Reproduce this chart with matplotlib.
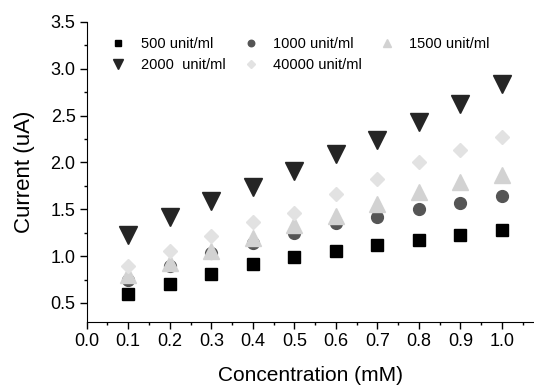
import matplotlib
matplotlib.use("Agg")
import matplotlib.pyplot as plt
from matplotlib.ticker import MultipleLocator

plt.rcParams['font.family'] = ['Liberation Sans', 'DejaVu Sans']

# data
conc = [0.1, 0.2, 0.3, 0.4, 0.5, 0.6, 0.7, 0.8, 0.9, 1.0]
cur_500 = [0.60, 0.70, 0.81, 0.92, 0.99, 1.05, 1.12, 1.17, 1.23, 1.28]
cur_1000 = [0.75, 0.90, 1.03, 1.14, 1.25, 1.35, 1.42, 1.50, 1.57, 1.64]
cur_1500 = [0.80, 0.93, 1.06, 1.19, 1.33, 1.43, 1.56, 1.68, 1.79, 1.87]
cur_2000 = [1.23, 1.42, 1.59, 1.74, 1.91, 2.09, 2.24, 2.43, 2.62, 2.84]
cur_40000 = [0.89, 1.05, 1.22, 1.36, 1.46, 1.66, 1.82, 2.00, 2.13, 2.27]
labels = ["500 unit/ml", "1000 unit/ml", "1500 unit/ml", "2000  unit/ml", "40000 unit/ml"]

fig = plt.figure(figsize=(5.34, 3.85), dpi=100)
ax = fig.add_axes([0.1623, 0.1644, 0.8377, 0.7785])

styles = [
    ('s', '#000000', 8.0),
    ('o', '#555555', 8.5),
    ('^', '#d2d2d2', 11.0),
    ('v', '#252525', 12.5),
    ('D', '#e2e2e2', 7.5),
]
series = [cur_500, cur_1000, cur_1500, cur_2000, cur_40000]

handles = []
for ys, lab, (mk, col, ms) in zip(series, labels, styles):
    h, = ax.plot(conc, ys, linestyle='none', marker=mk, color=col,
                 markeredgecolor=col, markersize=ms, label=lab)
    handles.append(h)

ax.set_xlim(0, 1.077)
ax.set_ylim(0.3, 3.5)
ax.xaxis.set_major_locator(MultipleLocator(0.1))
ax.xaxis.set_minor_locator(MultipleLocator(0.05))
ax.yaxis.set_minor_locator(MultipleLocator(0.25))
ax.set_yticks([0.5, 1.0, 1.5, 2.0, 2.5, 3.0, 3.5])

ax.spines['top'].set_visible(False)
ax.spines['right'].set_visible(False)
ax.tick_params(which='major', direction='out', length=5, width=1, labelsize=13, pad=3)
ax.tick_params(which='minor', direction='out', length=2.5, width=1)

ax.set_xlabel("Concentration (mM)", fontsize=15, labelpad=12)
ax.set_ylabel("Current (uA)", fontsize=16, labelpad=11)

# legend filled row-wise
order = [0, 3, 1, 4, 2]
ax.legend([handles[i] for i in order], [labels[i] for i in order],
          ncol=3, frameon=False, loc='upper left', bbox_to_anchor=(0.035, 0.978),
          fontsize=10.5, markerscale=0.55, handlelength=1.0, handletextpad=1.05,
          columnspacing=1.2, labelspacing=0.44, borderaxespad=0.2)

fig.savefig("out.png", dpi=100)
